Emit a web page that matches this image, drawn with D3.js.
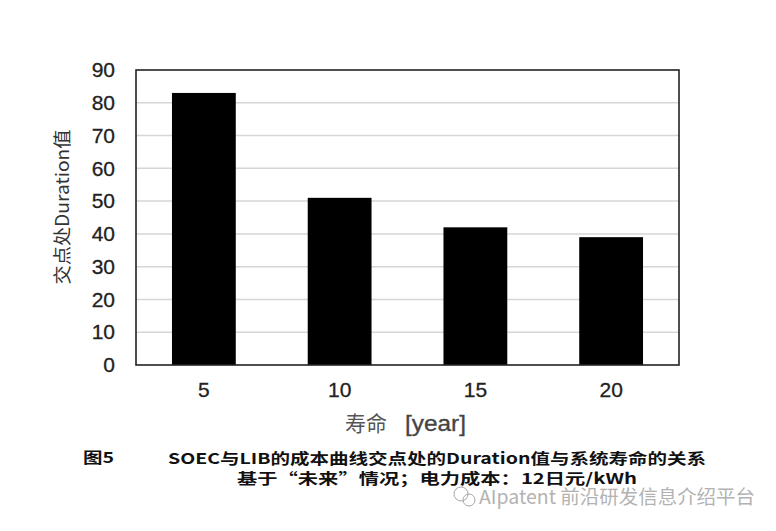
<!DOCTYPE html>
<html><head><meta charset="utf-8">
<script src="https://cdn.jsdelivr.net/npm/d3@7"></script>
<style>body{margin:0;background:#fff}svg{display:block}</style>
</head><body>
<script>
const categories = ["5","10","15","20"];
const values = [83, 51, 42, 39];
const yTicks = [0,10,20,30,40,50,60,70,80,90];
const yTitle = "交点处Duration值";
const xTitleCn = "寿命";
const xTitleUnit = "[year]";
const figLabel = "图5";
const caption1 = "SOEC与LIB的成本曲线交点处的Duration值与系统寿命的关系";
const caption2 = "基于“未来”情况；电力成本：12日元/kWh";
const watermark = "AIpatent 前沿研发信息介绍平台";

const W = 776, H = 531;
const m = {l:136, r:679, t:70, b:365};
const svg = d3.select("body").append("svg").attr("width", W).attr("height", H);

const x = d3.scaleBand().domain(categories).range([m.l, m.r]).paddingInner(0.53).paddingOuter(0.265);
const y = d3.scaleLinear().domain([0, 90]).range([m.b, m.t]);

// grid
svg.append("g").selectAll("line").data(yTicks.filter(d => d > 0 && d < 90)).join("line")
  .attr("x1", m.l).attr("x2", m.r).attr("y1", d => y(d)).attr("y2", d => y(d))
  .attr("stroke", "#d6d6d6").attr("stroke-width", 1.5);

// bars
svg.append("g").selectAll("rect").data(values).join("rect")
  .attr("x", (d,i) => x(categories[i])).attr("width", x.bandwidth())
  .attr("y", d => y(d)).attr("height", d => y(0) - y(d))
  .attr("fill", "#000");

// frame
svg.append("rect").attr("x", m.l).attr("y", m.t).attr("width", m.r - m.l).attr("height", m.b - m.t)
  .attr("fill", "none").attr("stroke", "#222").attr("stroke-width", 1.6);

// y axis
const ya = d3.axisLeft(y).tickValues(yTicks).tickSize(0).tickPadding(21);
const yg = svg.append("g").attr("transform", `translate(${m.l},0)`).call(ya);
yg.select(".domain").remove();
yg.selectAll("text").attr("font-family", "Liberation Sans, Arial, sans-serif").attr("font-size", 21)
  .attr("fill", "#222").attr("stroke", "#222").attr("stroke-width", 0.3);

// x axis
const xa = d3.axisBottom(x).tickSize(0).tickPadding(17);
const xg = svg.append("g").attr("transform", `translate(0,${m.b})`).call(xa);
xg.select(".domain").remove();
xg.selectAll("text").attr("font-family", "Liberation Sans, Arial, sans-serif").attr("font-size", 21)
  .attr("fill", "#222").attr("stroke", "#222").attr("stroke-width", 0.3);

// titles
const xt = svg.append("text").attr("y", 431).attr("fill", "#555");
xt.append("tspan").attr("x", 345).attr("font-family", "Noto Sans CJK SC, sans-serif").attr("font-size", 21).text(xTitleCn);
xt.append("tspan").attr("x", 405).attr("font-family", "Liberation Sans, Arial, sans-serif").attr("font-size", 22)
  .attr("fill", "#444").attr("stroke", "#444").attr("stroke-width", 0.3)
  .attr("textLength", 61).attr("lengthAdjust", "spacingAndGlyphs").text(xTitleUnit);
svg.append("text").attr("transform", "translate(69,207) rotate(-90)").attr("text-anchor", "middle")
  .attr("font-family", "Noto Sans CJK SC, Liberation Sans, sans-serif").attr("font-size", 18).attr("fill", "#333")
  .attr("textLength", 155).attr("lengthAdjust", "spacingAndGlyphs")
  .text(yTitle);

// caption
const cf = "Noto Sans CJK SC, sans-serif";
svg.append("text").attr("x", 83).attr("y", 463).attr("font-family", cf).attr("font-weight", "bold")
  .attr("font-size", 15).attr("fill", "#111").attr("textLength", 31).attr("lengthAdjust", "spacingAndGlyphs").text(figLabel);
svg.append("text").attr("x", 168).attr("y", 464).attr("font-family", cf)
  .attr("font-weight", "bold").attr("font-size", 15).attr("fill", "#111")
  .attr("textLength", 538).attr("lengthAdjust", "spacingAndGlyphs").text(caption1);
svg.append("text").attr("x", 237).attr("y", 484).attr("font-family", cf)
  .attr("font-weight", "bold").attr("font-size", 15).attr("fill", "#111")
  .attr("textLength", 400).attr("lengthAdjust", "spacingAndGlyphs").text(caption2);

// watermark
const wm = svg.append("g").attr("opacity", 0.75);
wm.append("circle").attr("cx", 461).attr("cy", 494).attr("r", 7).attr("fill", "none").attr("stroke", "#888").attr("stroke-width", 1);
wm.append("circle").attr("cx", 469).attr("cy", 500).attr("r", 6).attr("fill", "none").attr("stroke", "#888").attr("stroke-width", 1);
wm.append("text").attr("x", 479).attr("y", 504).attr("font-family", "Noto Sans CJK SC, sans-serif")
  .attr("font-size", 19).attr("fill", "#999").attr("textLength", 276).attr("lengthAdjust", "spacingAndGlyphs").text(watermark);
</script>
</body></html>
